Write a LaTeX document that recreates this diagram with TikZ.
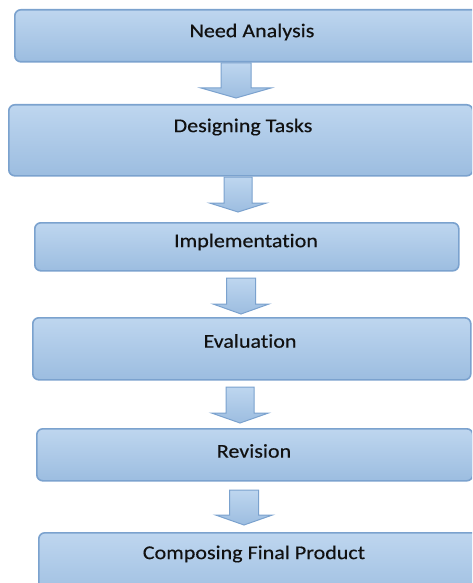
\documentclass[tikz,border=0pt]{standalone}
\usepackage{fontspec}
\setmainfont[Ligatures=NoCommon, FakeStretch=1.13, FakeBold=0.4]{Carlito}
\definecolor{bfillA}{HTML}{BED6EF}
\definecolor{bfillB}{HTML}{9CBDE0}
\definecolor{bline}{HTML}{7BA2CE}
\definecolor{txt}{HTML}{111111}
\tikzset{
  box/.style={draw=bline, line width=1.6pt, rounded corners=6pt, top color=bfillA, bottom color=bfillB, anchor=north west, inner sep=0pt},
  lbl/.style={font=\fontsize{19.5}{23}\selectfont, text=txt, inner sep=0pt},
  arrowbox/.style={draw=bline, line width=1pt, top color=bfillA, bottom color=bfillB, line join=miter}
}
\newcommand\blockarrow[6]{%
  \path[arrowbox] (#1-#5,#2) -- (#1+#5,#2) -- (#1+#5,#3) -- (#1+#6,#3) -- (#1,#4) -- (#1-#6,#3) -- (#1-#5,#3) -- cycle;}
\begin{document}
\begin{tikzpicture}[x=1pt,y=-1pt]
\useasboundingbox (0,0) rectangle (472,583);
\clip (0,0) rectangle (472,583);
% boxes
\node[box, minimum width=476pt, minimum height=52pt] (b1) at (14,9) {};
\node[box, minimum width=464pt, minimum height=71pt] (b2) at (8,104) {};
\node[box, minimum width=424pt, minimum height=48pt] (b3) at (34,222) {};
\node[box, minimum width=438pt, minimum height=62pt] (b4) at (32,317) {};
\node[box, minimum width=436pt, minimum height=52pt] (b5) at (36,428) {};
\node[box, minimum width=450pt, minimum height=70pt] (b6) at (38,532) {};
% labels
\node[lbl] (t1) at (252,32) {Need Analysis};
\node[lbl] (t2) at (243,127) {Designing Tasks};
\node[lbl] (t3) at (246,242) {Implementation};
\node[lbl] (t4) at (250,341) {Evaluation};
\node[lbl] (t5) at (254,451) {Revision};
\node[lbl] (t6) at (254,554) {Composing Final Product};
% block arrows
\blockarrow{236}{63}{88}{98}{15}{35}
\blockarrow{238}{177}{203}{212}{14}{28.5}
\blockarrow{241}{278}{304}{314}{14.5}{28}
\blockarrow{240}{387}{413}{423}{14}{28.5}
\blockarrow{244}{490}{515}{525}{14.5}{28.5}
\end{tikzpicture}
\end{document}
